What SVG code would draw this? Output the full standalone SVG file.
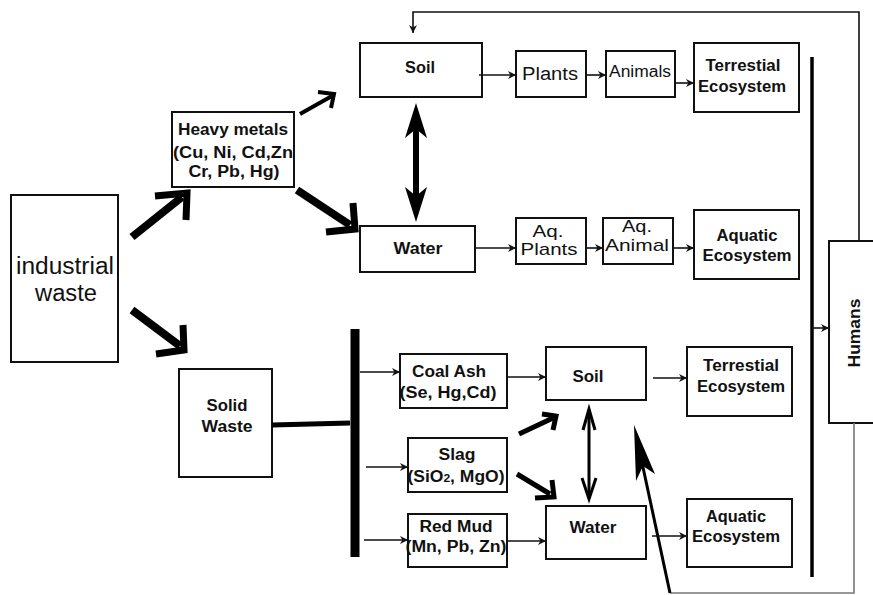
<svg xmlns="http://www.w3.org/2000/svg" width="873" height="595" viewBox="0 0 873 595">
<defs>
<style>
.box{fill:#fff;stroke:#111;stroke-width:2}
.t{font-family:"Liberation Sans",Arial,sans-serif;fill:#111;text-anchor:middle}
.b{font-weight:bold}
.thin{stroke:#111;stroke-width:1.6;fill:none}
.thick{stroke:#000;fill:none;stroke-linejoin:miter;stroke-linecap:butt}
.fh{fill:#000;stroke:none}
</style>
<marker id="ah" viewBox="0 0 10 10" refX="10" refY="5" markerWidth="9" markerHeight="8" markerUnits="userSpaceOnUse" orient="auto">
<path d="M0,0 L10,5 L0,10 L3,5 z" fill="#111"/>
</marker>
</defs>
<rect width="873" height="595" fill="#fff"/>

<g id="industrial">
<rect class="box" x="11" y="195" width="107" height="167"/>
<text class="t" x="65" y="274" font-size="23" textLength="98" lengthAdjust="spacingAndGlyphs">industrial</text>
<text class="t" x="66" y="301" font-size="23" textLength="62" lengthAdjust="spacingAndGlyphs">waste</text>
</g>

<g id="heavy">
<rect class="box" x="172" y="112" width="122" height="75"/>
<text class="t b" x="233" y="135" font-size="16" textLength="110" lengthAdjust="spacingAndGlyphs">Heavy metals</text>
<text class="t b" x="233" y="158" font-size="16" textLength="120" lengthAdjust="spacingAndGlyphs">(Cu, Ni, Cd,Zn</text>
<text class="t b" x="234" y="177" font-size="16" textLength="91" lengthAdjust="spacingAndGlyphs">Cr, Pb, Hg)</text>
</g>

<g id="soil1">
<rect class="box" x="360" y="43" width="122" height="54"/>
<text class="t b" x="420" y="73" font-size="16" textLength="30" lengthAdjust="spacingAndGlyphs">Soil</text>
</g>
<g id="water1">
<rect class="box" x="360" y="226" width="115" height="46"/>
<text class="t b" x="418" y="254" font-size="17" textLength="49" lengthAdjust="spacingAndGlyphs">Water</text>
</g>
<g id="plants">
<rect class="box" x="516" y="51" width="70" height="46"/>
<text class="t" x="550" y="80" font-size="18" textLength="56" lengthAdjust="spacingAndGlyphs">Plants</text>
</g>
<g id="animals">
<rect class="box" x="606" y="51" width="69" height="46"/>
<text class="t" x="640" y="77" font-size="16" textLength="62" lengthAdjust="spacingAndGlyphs">Animals</text>
</g>
<g id="terr1">
<rect class="box" x="694" y="43" width="105" height="69"/>
<text class="t b" x="743" y="71" font-size="16.5" textLength="75" lengthAdjust="spacingAndGlyphs">Terrestial</text>
<text class="t b" x="742" y="92" font-size="16.5" textLength="88" lengthAdjust="spacingAndGlyphs">Ecosystem</text>
</g>
<g id="aqplants">
<rect class="box" x="516" y="218" width="70" height="46"/>
<text class="t" x="548" y="237" font-size="17" textLength="31" lengthAdjust="spacingAndGlyphs">Aq.</text>
<text class="t" x="549" y="255" font-size="17" textLength="57" lengthAdjust="spacingAndGlyphs">Plants</text>
</g>
<g id="aqanimal">
<rect class="box" x="603" y="218" width="70" height="46"/>
<text class="t" x="637" y="232" font-size="17" textLength="30" lengthAdjust="spacingAndGlyphs">Aq.</text>
<text class="t" x="637" y="251" font-size="17" textLength="64" lengthAdjust="spacingAndGlyphs">Animal</text>
</g>
<g id="aquatic1">
<rect class="box" x="694" y="210" width="105" height="69"/>
<text class="t b" x="747" y="241" font-size="16.5" textLength="61" lengthAdjust="spacingAndGlyphs">Aquatic</text>
<text class="t b" x="747" y="261" font-size="16.5" textLength="89" lengthAdjust="spacingAndGlyphs">Ecosystem</text>
</g>

<g id="humans">
<rect class="box" x="829" y="241" width="70" height="182"/>
<text class="t b" transform="translate(860,333) rotate(-90)" font-size="17" textLength="69" lengthAdjust="spacingAndGlyphs">Humans</text>
</g>

<g id="solid">
<rect class="box" x="179" y="369" width="93" height="108"/>
<text class="t b" x="227" y="411" font-size="17" textLength="41" lengthAdjust="spacingAndGlyphs">Solid</text>
<text class="t b" x="227" y="432" font-size="17" textLength="51" lengthAdjust="spacingAndGlyphs">Waste</text>
</g>
<g id="coalash">
<rect class="box" x="400" y="354" width="107" height="54"/>
<text class="t b" x="449" y="377" font-size="16" textLength="74" lengthAdjust="spacingAndGlyphs">Coal Ash</text>
<text class="t b" x="448" y="398" font-size="16" textLength="97" lengthAdjust="spacingAndGlyphs">(Se, Hg,Cd)</text>
</g>
<g id="slag">
<rect class="box" x="408" y="438" width="99" height="54"/>
<text class="t b" x="457" y="460" font-size="16" textLength="37" lengthAdjust="spacingAndGlyphs">Slag</text>
<text class="t b" x="456" y="482" font-size="16" textLength="97" lengthAdjust="spacingAndGlyphs">(SiO<tspan font-size="11">2</tspan>, MgO)</text>
</g>
<g id="redmud">
<rect class="box" x="408" y="514" width="99" height="53"/>
<text class="t b" x="456" y="532" font-size="16" textLength="73" lengthAdjust="spacingAndGlyphs">Red Mud</text>
<text class="t b" x="456" y="552" font-size="16" textLength="101" lengthAdjust="spacingAndGlyphs">(Mn, Pb, Zn)</text>
</g>
<g id="soil2">
<rect class="box" x="546" y="347" width="100" height="53"/>
<text class="t b" x="588" y="382" font-size="16" textLength="31" lengthAdjust="spacingAndGlyphs">Soil</text>
</g>
<g id="water2">
<rect class="box" x="546" y="506" width="100" height="53"/>
<text class="t b" x="593" y="533" font-size="17" textLength="47" lengthAdjust="spacingAndGlyphs">Water</text>
</g>
<g id="terr2">
<rect class="box" x="687" y="347" width="105" height="69"/>
<text class="t b" x="741" y="371" font-size="16.5" textLength="76" lengthAdjust="spacingAndGlyphs">Terrestial</text>
<text class="t b" x="741" y="392" font-size="16.5" textLength="88" lengthAdjust="spacingAndGlyphs">Ecosystem</text>
</g>
<g id="aquatic2">
<rect class="box" x="687" y="499" width="105" height="68"/>
<text class="t b" x="736" y="522" font-size="16.5" textLength="60" lengthAdjust="spacingAndGlyphs">Aquatic</text>
<text class="t b" x="736" y="542" font-size="16.5" textLength="88" lengthAdjust="spacingAndGlyphs">Ecosystem</text>
</g>

<g id="connectors">
<line class="thick" stroke-width="8" x1="132" y1="237" x2="182" y2="197"/>
<polyline class="thick" stroke-width="7" points="155,196 187,193 186,220"/>
<line class="thick" stroke-width="8" x1="297" y1="190" x2="350" y2="225"/>
<polyline class="thick" stroke-width="7" points="353,203 355,229 326,232"/>
<line class="thick" stroke-width="8" x1="132" y1="310" x2="180" y2="346"/>
<polyline class="thick" stroke-width="7" points="183,325 184,350 156,354"/>
<line class="thick" stroke-width="4" x1="300" y1="114" x2="332" y2="96"/>
<polyline class="thick" stroke-width="4" points="318,92 334,94 331,108"/>
<line class="thick" stroke-width="6" x1="416" y1="125" x2="416" y2="200"/>
<path class="fh" d="M416,103 L405,138 L416,129 L427,138 Z"/>
<path class="fh" d="M416,222 L405,187 L416,196 L427,187 Z"/>
<line class="thin" x1="479" y1="75" x2="516" y2="75" marker-end="url(#ah)"/>
<line class="thin" x1="586" y1="75" x2="606" y2="75" marker-end="url(#ah)"/>
<line class="thin" x1="675" y1="83" x2="694" y2="83" marker-end="url(#ah)"/>
<line class="thin" x1="475" y1="248" x2="516" y2="248" marker-end="url(#ah)"/>
<line class="thin" x1="586" y1="248" x2="603" y2="248" marker-end="url(#ah)"/>
<line class="thin" x1="673" y1="248" x2="694" y2="248" marker-end="url(#ah)"/>
<polyline class="thin" stroke-width="2" points="859,241 859,12 413,12 413,33" marker-end="url(#ah)"/>
<line class="thick" stroke-width="3.5" x1="812" y1="57" x2="812" y2="577"/>
<line class="thin" x1="812" y1="328" x2="829" y2="328" marker-end="url(#ah)"/>
<polyline points="854,423 854,593 670,593" fill="none" stroke="#777" stroke-width="1.6"/>
<line class="thick" stroke-width="3" x1="670" y1="593" x2="641" y2="458"/>
<path class="fh" d="M634,425 L655,474 L643,466 L636,481 Z"/>
<line class="thick" stroke-width="5" x1="272" y1="425" x2="350" y2="423"/>
<line class="thick" stroke-width="9" x1="355" y1="329" x2="355" y2="557"/>
<line class="thin" x1="360" y1="372" x2="400" y2="372" marker-end="url(#ah)"/>
<line class="thin" x1="366" y1="467" x2="408" y2="467" marker-end="url(#ah)"/>
<line class="thin" x1="364" y1="540" x2="408" y2="540" marker-end="url(#ah)"/>
<line class="thin" x1="507" y1="377" x2="546" y2="377" marker-end="url(#ah)"/>
<line class="thin" x1="507" y1="541" x2="546" y2="541" marker-end="url(#ah)"/>
<line class="thin" x1="653" y1="378" x2="687" y2="378" marker-end="url(#ah)"/>
<line class="thin" x1="652" y1="536" x2="687" y2="536" marker-end="url(#ah)"/>
<line class="thick" stroke-width="5" x1="519" y1="434" x2="553" y2="418"/>
<polyline class="thick" stroke-width="5" points="542,414 556,416 553,430"/>
<line class="thick" stroke-width="5" x1="517" y1="474" x2="550" y2="494"/>
<polyline class="thick" stroke-width="5" points="552,480 554,497 535,498"/>
<line class="thick" stroke-width="3" x1="589" y1="410" x2="589" y2="498"/>
<polyline class="thick" stroke-width="3" points="583,430 589,409 595,430"/>
<polyline class="thick" stroke-width="3" points="582,478 589,499 596,478"/>
</g>
</svg>
